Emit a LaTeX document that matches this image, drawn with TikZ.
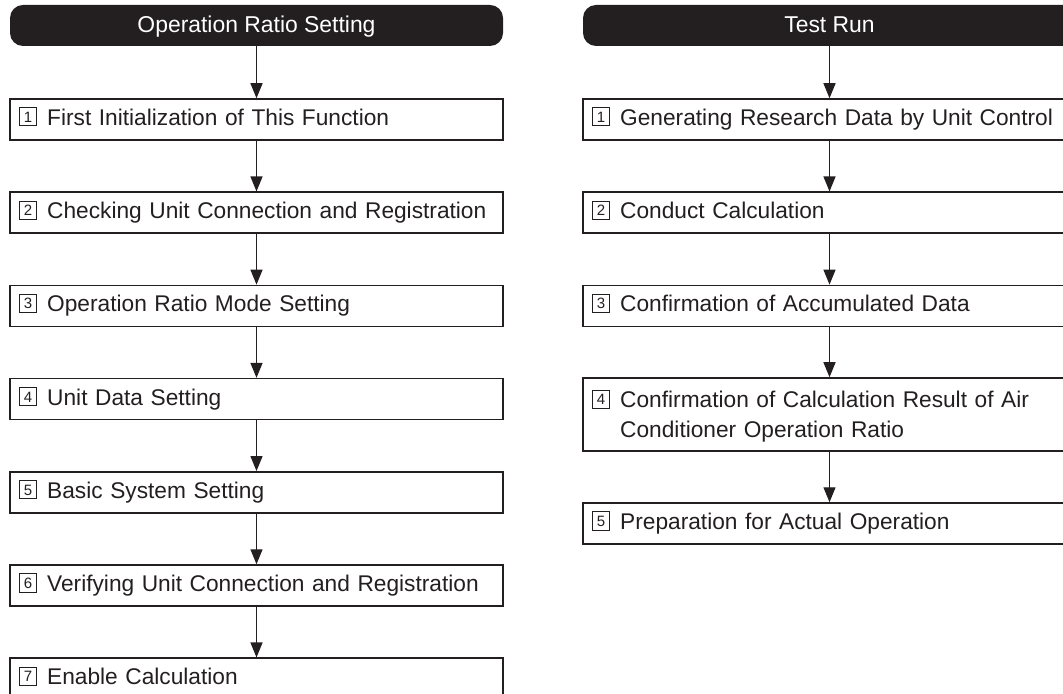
\documentclass[tikz,border=0pt]{standalone}
\usepackage{fontspec}
\setmainfont{Liberation Sans}
\usepackage{tikz}
\usetikzlibrary{arrows.meta,positioning}
\definecolor{ink}{HTML}{231F20}
\tikzstyle{headbox} = [fill=ink, text=white, rounded corners=6.5pt, minimum width=246.5pt, minimum height=20.5pt, inner sep=0pt, text height=8.5pt, text depth=1pt, font=\fontsize{11.45}{14}\selectfont]
\tikzstyle{stepbox} = [draw=ink, line width=0.75pt, text=ink, text width=237.5pt, align=left, minimum width=246.5pt, minimum height=20.5pt, inner xsep=4.5pt, inner ysep=2pt, font=\fontsize{11.35}{15}\selectfont]
\tikzstyle{arrow} = [draw=ink, line width=0.65pt, -{Triangle[length=7.5pt,width=6pt]}]
\newcommand{\stepno}[1]{{\setlength{\fboxsep}{0pt}\setlength{\fboxrule}{0.45pt}\fbox{\makebox[8.2pt]{\rule{0pt}{8.6pt}\raisebox{1.5pt}{\fontsize{7.5}{8}\selectfont #1}}}}\hspace{5pt}\strut}
\newcommand{\headbox}[2]{node (h#1) [headbox] {#2}}
\newcommand{\opstep}[2]{node (o#1) [stepbox] {\stepno{#1}#2}}
\newcommand{\runstep}[2]{node (r#1) [stepbox] {\stepno{#1}#2}}

\begin{document}
\begin{tikzpicture}[x=0.5pt,y=0.5pt]
\clip (0,0) rectangle (1063,-694);
\path (256.5,-25.5) \headbox{1}{Operation Ratio Setting};
\path (h1)+(573,0) \headbox{2}{Test Run};

% operation ratio setting
\path (h1)+(0,-94) \opstep{1}{First Initialization of This Function};
\path [arrow] (h1.south) -- (o1.north);
\path (o1)+(0,-93.2) \opstep{2}{Checking Unit Connection and Registration};
\path [arrow] (o1.south) -- (o2.north);
\path (o2)+(0,-93.2) \opstep{3}{Operation Ratio Mode Setting};
\path [arrow] (o2.south) -- (o3.north);
\path (o3)+(0,-93.2) \opstep{4}{Unit Data Setting};
\path [arrow] (o3.south) -- (o4.north);
\path (o4)+(0,-93.2) \opstep{5}{Basic System Setting};
\path [arrow] (o4.south) -- (o5.north);
\path (o5)+(0,-93.2) \opstep{6}{Verifying Unit Connection and Registration};
\path [arrow] (o5.south) -- (o6.north);
\path (o6)+(0,-93.2) \opstep{7}{Enable Calculation};
\path [arrow] (o6.south) -- (o7.north);

% test run
\path (h2)+(0,-94) \runstep{1}{Generating Research Data by Unit Control};
\path [arrow] (h2.south) -- (r1.north);
\path (r1)+(0,-93.2) \runstep{2}{Conduct Calculation};
\path [arrow] (r1.south) -- (r2.north);
\path (r2)+(0,-93.2) \runstep{3}{Confirmation of Accumulated Data};
\path [arrow] (r2.south) -- (r3.north);
\path (r3)+(0,-108.6) node (r4) [stepbox, minimum height=36.5pt] {\stepno{4}\parbox[t]{220pt}{Confirmation of Calculation Result of Air\\Conditioner Operation Ratio}};
\path [arrow] (r3.south) -- (r4.north);
\path (r4)+(0,-109) \runstep{5}{Preparation for Actual Operation};
\path [arrow] (r4.south) -- (r5.north);
\end{tikzpicture}
\end{document}
